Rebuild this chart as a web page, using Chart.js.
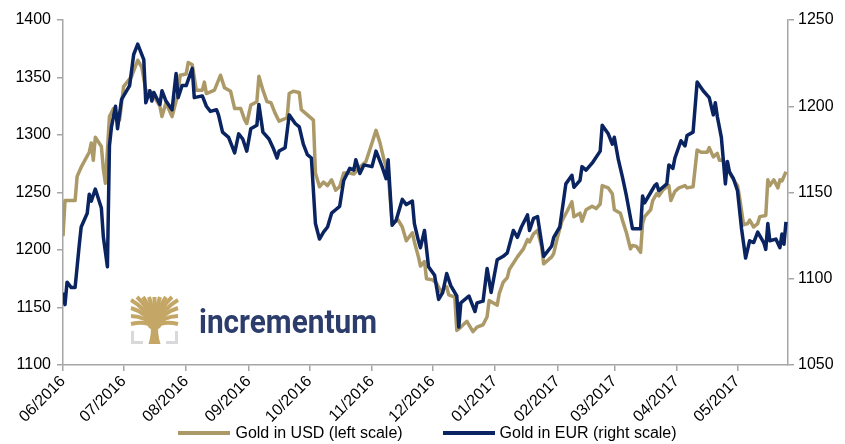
<!DOCTYPE html>
<html>
<head>
<meta charset="utf-8">
<script src="https://cdn.jsdelivr.net/npm/chart.js@4.4.0/dist/chart.umd.min.js"></script>
<style>
    html, body { margin: 0; padding: 0; background: #fff; }
    #wrap { width: 845px; height: 444px; position: relative; }
    #legend {
        position: absolute; left: 0; top: 424px; width: 845px;
        display: flex; justify-content: center; padding-left: 10px; box-sizing: border-box;
        font-family: "Liberation Sans", Arial, sans-serif; font-size: 16px; color: #000;
    }
    .item { display: flex; align-items: center; margin: 0 20px; }
    .swatch { width: 52px; height: 4px; margin-right: 5px; }
</style>
</head>
<body>
<div id="wrap">
    <canvas id="goldChart" width="845" height="444"></canvas>
    <div id="legend"></div>
</div>
<script>
// month ticks (days since 1 June 2016)
const monthDays = [0, 30, 61, 92, 122, 153, 183, 214, 245, 273, 304, 334];
const monthLabels = ['06/2016', '07/2016', '08/2016', '09/2016', '10/2016', '11/2016',
    '12/2016', '01/2017', '02/2017', '03/2017', '04/2017', '05/2017'];

// Gold in USD (left scale)
const usdDays = [
    0, 1, 6, 7, 9, 13, 14, 15, 16, 19,
    20, 21, 23, 25, 28, 30, 34, 37, 39, 41,
    44, 48, 49, 51, 54, 57, 58, 61, 62, 64,
    66, 69, 70, 71, 75, 78, 80, 83, 85, 88,
    90, 91, 93, 96, 97, 99, 101, 103, 105, 107,
    111, 112, 114, 117, 118, 122, 124, 125, 127, 129,
    131, 133, 135, 137, 139, 142, 144, 147, 150, 153,
    155, 157, 159, 161, 163, 166, 168, 170, 173, 174,
    176, 177, 179, 180, 183, 185, 187, 190, 191, 194,
    195, 197, 200, 203, 205, 208, 210, 211, 215, 216,
    218, 220, 221, 225, 228, 230, 231, 233, 235, 237,
    238, 242, 243, 245, 247, 250, 252, 253, 256, 257,
    259, 262, 264, 266, 267, 270, 272, 273, 276, 277,
    279, 281, 282, 284, 286, 287, 288, 291, 292, 294,
    295, 297, 299, 300, 301, 303, 305, 308, 309, 312,
    314, 316, 319, 320, 322, 324, 325, 327, 329, 331,
    334, 335, 337, 339, 340, 342, 344, 345, 348, 349,
    350, 352, 354, 355, 356, 358
];
const usdValues = [
    1212, 1243, 1243, 1264, 1272, 1285, 1293, 1278, 1298, 1290,
    1270, 1258, 1316, 1323, 1313, 1342, 1351, 1365, 1359, 1339,
    1337, 1325, 1316, 1328, 1316, 1336, 1352, 1353, 1363, 1361,
    1339, 1339, 1346, 1336, 1339, 1352, 1341, 1338, 1323, 1323,
    1313, 1310, 1326, 1329, 1351, 1339, 1329, 1328, 1319, 1312,
    1315, 1336, 1338, 1337, 1322, 1316, 1313, 1267, 1255, 1259,
    1256, 1261, 1252, 1255, 1267, 1267, 1266, 1272, 1277, 1293,
    1304, 1293, 1278, 1267, 1223, 1226, 1220, 1208, 1215, 1207,
    1194, 1186, 1190, 1175, 1174, 1171, 1164, 1168, 1161, 1159,
    1130, 1133, 1138, 1129, 1133, 1135, 1142, 1156, 1152, 1162,
    1172, 1176, 1183, 1194, 1201, 1209, 1207, 1214, 1217, 1203,
    1188, 1194, 1197, 1212, 1225, 1235, 1242, 1229, 1232, 1225,
    1235, 1238, 1236, 1240, 1256, 1254, 1249, 1235, 1232, 1226,
    1215, 1201, 1204, 1203, 1198, 1223, 1229, 1235, 1243, 1249,
    1247, 1252, 1255, 1256, 1243, 1251, 1254, 1256, 1254, 1255,
    1287, 1285, 1285, 1289, 1281, 1284, 1278, 1278, 1272, 1264,
    1256, 1246, 1222, 1223, 1226, 1220, 1223, 1229, 1230, 1261,
    1256, 1261, 1254, 1261, 1260, 1268
];

// Gold in EUR (right scale)
const eurDays = [
    0, 1, 2, 4, 6, 8, 9, 12, 13, 14,
    16, 19, 20, 22, 23, 24, 26, 27, 29, 33,
    35, 37, 40, 41, 43, 44, 45, 48, 49, 51,
    54, 56, 57, 59, 61, 64, 65, 69, 71, 73,
    76, 77, 79, 82, 85, 87, 89, 91, 93, 96,
    97, 99, 102, 104, 106, 107, 110, 112, 115, 117,
    119, 121, 123, 125, 127, 129, 131, 133, 135, 137,
    139, 142, 144, 145, 147, 149, 153, 155, 158, 160,
    161, 163, 165, 168, 170, 173, 174, 176, 177, 179,
    181, 184, 186, 188, 190, 192, 195, 196, 197, 201,
    204, 205, 208, 210, 212, 215, 218, 220, 223, 225,
    227, 230, 231, 233, 235, 238, 242, 243, 246, 249,
    252, 253, 256, 257, 259, 262, 266, 267, 270, 272,
    273, 275, 277, 279, 282, 286, 287, 288, 291, 293,
    294, 295, 299, 300, 302, 303, 306, 308, 309, 312,
    314, 317, 320, 322, 323, 324, 326, 328, 329, 330,
    332, 334, 336, 338, 340, 342, 344, 345, 347, 348,
    349, 350, 353, 355, 356, 357, 358
];
const eurValues = [
    1092, 1085, 1098, 1095, 1095, 1119, 1130, 1138, 1149, 1145,
    1152, 1141, 1124, 1107, 1177, 1188, 1200, 1187, 1204, 1212,
    1230, 1236, 1227, 1202, 1209, 1203, 1208, 1201, 1209, 1203,
    1198, 1219, 1205, 1212, 1212, 1222, 1205, 1206, 1200, 1197,
    1198, 1195, 1185, 1182, 1173, 1184, 1181, 1174, 1187, 1189,
    1201, 1185, 1181, 1176, 1170, 1174, 1176, 1195, 1190, 1188,
    1178, 1172, 1170, 1132, 1123, 1127, 1130, 1138, 1140, 1142,
    1157, 1164, 1163, 1169, 1161, 1166, 1165, 1174, 1165, 1158,
    1169, 1131, 1134, 1146, 1143, 1145, 1132, 1122, 1118, 1128,
    1107, 1102, 1088, 1092, 1103, 1096, 1090, 1072, 1086, 1090,
    1081, 1086, 1087, 1106, 1092, 1111, 1113, 1115, 1128, 1124,
    1130, 1137, 1128, 1135, 1136, 1113, 1119, 1124, 1130, 1155,
    1160, 1153, 1157, 1165, 1163, 1167, 1174, 1189, 1184, 1178,
    1182, 1169, 1159, 1148, 1129, 1129, 1148, 1144, 1150, 1154,
    1155, 1151, 1155, 1166, 1164, 1170, 1180, 1177, 1183, 1185,
    1214, 1209, 1205, 1195, 1202, 1194, 1182, 1155, 1168, 1162,
    1158, 1151, 1129, 1112, 1122, 1121, 1127, 1125, 1121, 1117,
    1132, 1122, 1123, 1118, 1126, 1120, 1133
];

const usdColor = '#AC9968';
const eurColor = '#0A2361';
const axisColor = '#A6A6A6';
const fontFamily = '"Liberation Sans", Arial, sans-serif';

// incrementum logo drawn inside the plot
const logoPlugin = {
    id: 'logo',
    beforeDatasetsDraw(chart) {
        const ctx = chart.ctx;
        const ox = chart.chartArea.left + 68;
        const oy = chart.chartArea.top + 277;
        const s = 47;
        ctx.save();

        // grey brackets
        ctx.strokeStyle = '#D9D9DC';
        ctx.lineWidth = 3;
        ctx.beginPath();
        ctx.moveTo(ox + 1.5, oy + 34);
        ctx.lineTo(ox + 1.5, oy + s - 1.5);
        ctx.lineTo(ox + 12, oy + s - 1.5);
        ctx.moveTo(ox + s - 1.5, oy + 34);
        ctx.lineTo(ox + s - 1.5, oy + s - 1.5);
        ctx.lineTo(ox + s - 12, oy + s - 1.5);
        ctx.stroke();

        // trunk
        const gold = '#C4A766';
        ctx.fillStyle = gold;
        ctx.beginPath();
        ctx.moveTo(ox + 17.5, oy + s);
        ctx.lineTo(ox + 29.5, oy + s);
        ctx.quadraticCurveTo(ox + 26.5, oy + 38, ox + 27, oy + 25);
        ctx.lineTo(ox + 20, oy + 25);
        ctx.quadraticCurveTo(ox + 20.5, oy + 38, ox + 17.5, oy + s);
        ctx.closePath();
        ctx.fill();

        // crown: fan of branches with thin gaps
        ctx.strokeStyle = gold;
        ctx.lineWidth = 4;
        ctx.lineCap = 'butt';
        const ends = [[0, 27], [0, 19], [0, 11], [0, 3], [6, 0], [12, 0], [18, 0], [23.5, 0],
            [29, 0], [35, 0], [41, 0], [47, 3], [47, 11], [47, 19], [47, 27]];
        const cx = ox + 23.5, cy = oy + 30;
        ends.forEach(([ex, ey]) => {
            ctx.beginPath();
            ctx.moveTo(cx, cy);
            ctx.quadraticCurveTo(cx + (ex - 23.5) * 0.35, oy + 10 + ey * 0.5, ox + ex, oy + ey);
            ctx.stroke();
        });
        ctx.beginPath();
        ctx.arc(cx, oy + 25, 8, 0, Math.PI * 2);
        ctx.fill();

        // word mark
        ctx.fillStyle = '#2C3D6C';
        ctx.font = 'bold 33px Roboto, "Open Sans", sans-serif';
        ctx.textBaseline = 'alphabetic';
        const w = ctx.measureText('incrementum').width;
        ctx.translate(ox + 68, oy + 36);
        ctx.scale(178 / w, 1);
        ctx.fillText('incrementum', 0, 0);
        ctx.restore();
    }
};

const axisFont = { family: fontFamily, size: 16 };
const plainNumber = value => String(value);

const chart = new Chart(document.getElementById('goldChart'), {
    type: 'line',
    data: {
        datasets: [{
            label: 'Gold in USD (left scale)',
            data: usdDays.map((d, i) => ({ x: d, y: usdValues[i] })),
            borderColor: usdColor,
            borderWidth: 3.5,
            pointRadius: 0,
            tension: 0,
            borderJoinStyle: 'round',
            order: 2,
            yAxisID: 'yLeft'
        }, {
            label: 'Gold in EUR (right scale)',
            data: eurDays.map((d, i) => ({ x: d, y: eurValues[i] })),
            borderColor: eurColor,
            borderWidth: 3.5,
            pointRadius: 0,
            tension: 0,
            borderJoinStyle: 'round',
            order: 1,
            yAxisID: 'yRight'
        }]
    },
    options: {
        responsive: false,
        animation: false,
        devicePixelRatio: 1,
        layout: { padding: { top: 20, bottom: 0, left: 0, right: 0 } },
        plugins: {
            legend: { display: false },
            tooltip: { enabled: false }
        },
        scales: {
            x: {
                type: 'linear',
                min: 0,
                max: 359,
                afterBuildTicks: scale => {
                    scale.ticks = monthDays.map(v => ({ value: v }));
                },
                afterFit: scale => { scale.height = 79; },
                ticks: {
                    autoSkip: false,
                    maxRotation: 45,
                    minRotation: 45,
                    padding: 1,
                    color: '#000',
                    font: axisFont,
                    callback: (value, index) => monthLabels[index]
                },
                grid: { drawOnChartArea: false, drawTicks: true, tickLength: 6, color: axisColor, lineWidth: 1.5 },
                border: { display: true, color: axisColor, width: 1.5 }
            },
            yLeft: {
                position: 'left',
                min: 1100,
                max: 1400,
                afterFit: scale => { scale.width = 63; },
                ticks: {
                    stepSize: 50,
                    padding: 6,
                    color: '#000',
                    font: axisFont,
                    callback: plainNumber
                },
                grid: { drawOnChartArea: false, drawTicks: true, tickLength: 6, color: axisColor, lineWidth: 1.5 },
                border: { display: true, color: axisColor, width: 1.5 }
            },
            yRight: {
                position: 'right',
                min: 1050,
                max: 1250,
                afterFit: scale => { scale.width = 57; },
                ticks: {
                    stepSize: 50,
                    padding: 4,
                    color: '#000',
                    font: axisFont,
                    callback: plainNumber
                },
                grid: { drawOnChartArea: false, drawTicks: true, tickLength: 6, color: axisColor, lineWidth: 1.5 },
                border: { display: true, color: axisColor, width: 1.5 }
            }
        }
    },
    plugins: [logoPlugin]
});

// legend built from the chart datasets
const legendBox = document.getElementById('legend');
chart.data.datasets.forEach(ds => {
    const item = document.createElement('div');
    item.className = 'item';
    const swatch = document.createElement('span');
    swatch.className = 'swatch';
    swatch.style.background = ds.borderColor;
    const label = document.createElement('span');
    label.textContent = ds.label;
    item.appendChild(swatch);
    item.appendChild(label);
    legendBox.appendChild(item);
});
</script>
</body>
</html>
